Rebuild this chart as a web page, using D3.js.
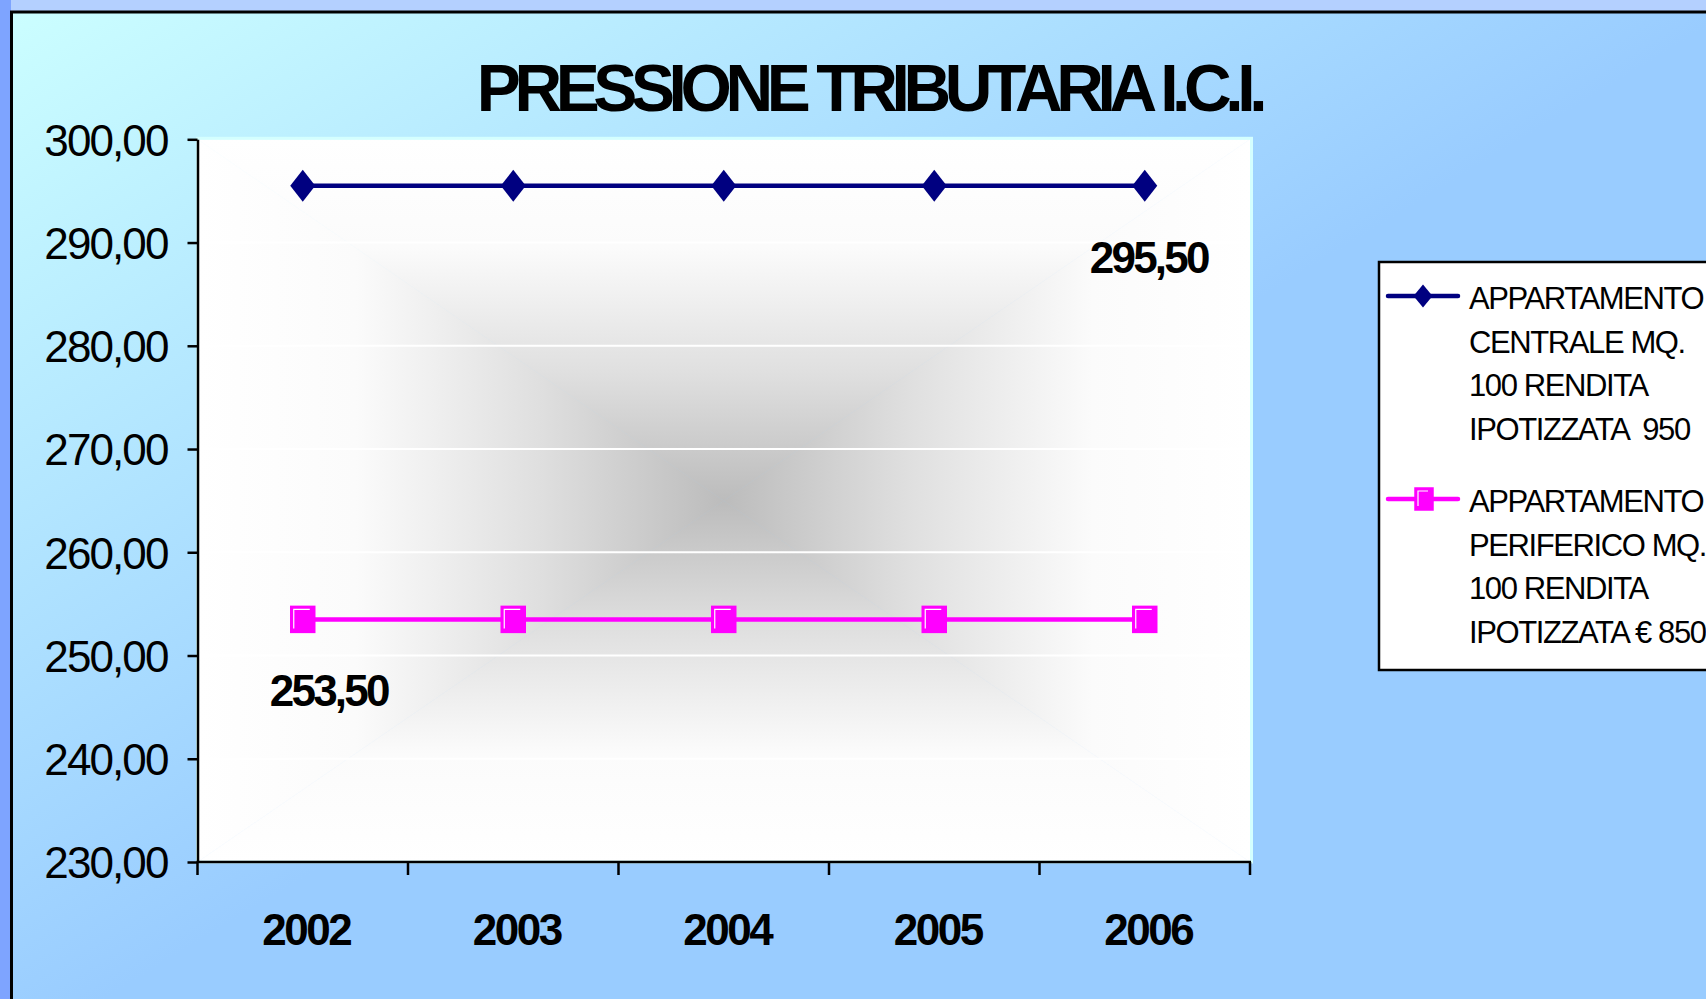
<!DOCTYPE html>
<html>
<head>
<meta charset="utf-8">
<script src="https://cdn.jsdelivr.net/npm/d3@7"></script>
<style>
  html, body { margin: 0; padding: 0; overflow: hidden; background: #8fb0ff; }
  svg { display: block; font-family: "Liberation Sans", Arial, sans-serif; }
</style>
</head>
<body>
<div id="chart-area"></div>
<script>
// Data
const years = ["2002", "2003", "2004", "2005", "2006"];
const centrale = [295.5, 295.5, 295.5, 295.5, 295.5];
const periferico = [253.5, 253.5, 253.5, 253.5, 253.5];
const yTicks = [230, 240, 250, 260, 270, 280, 290, 300];
const legendCentrale = ["APPARTAMENTO", "CENTRALE MQ.", "100 RENDITA", "IPOTIZZATA  950"];
const legendPeriferico = ["APPARTAMENTO", "PERIFERICO MQ.", "100 RENDITA", "IPOTIZZATA € 850"];

(function () {
  const width = 1706;
  const height = 999;

  // plot area
  const plot = { left: 197.5, right: 1250, top: 139.3, bottom: 862 };

  const itFormat = d3.formatLocale({ decimal: ",", thousands: ".", grouping: [3], currency: ["€", ""] }).format(".2f");

  const svg = d3.select("#chart-area")
    .append("svg")
    .attr("width", width)
    .attr("height", height);

  const defs = svg.append("defs");

  // background gradient (cyan top-left to light blue)
  const bg = defs.append("linearGradient")
    .attr("id", "bgGrad")
    .attr("gradientUnits", "userSpaceOnUse")
    .attr("x1", 0).attr("y1", 0).attr("x2", 471).attr("y2", 777);
  bg.append("stop").attr("offset", 0).attr("stop-color", "#ccffff");
  bg.append("stop").attr("offset", 1).attr("stop-color", "#99ccff");

  // outer strip (outside the frame)
  svg.append("rect").attr("x", 0).attr("y", 0).attr("width", width).attr("height", 12)
    .attr("fill", "#b4d0ff");
  svg.append("rect").attr("x", 0).attr("y", 0).attr("width", 11).attr("height", height)
    .attr("fill", "#7ea4ff");

  // chart area with frame
  svg.append("rect")
    .attr("x", 11.5).attr("y", 12)
    .attr("width", width + 20).attr("height", height + 20)
    .attr("fill", "url(#bgGrad)")
    .attr("stroke", "#000")
    .attr("stroke-width", 3);

  // scales
  const x = d3.scaleBand().domain(years).range([plot.left, plot.right]).padding(0);
  const y = d3.scaleLinear().domain([230, 300]).range([plot.bottom, plot.top]);
  const cx = d => x(d) + x.bandwidth() / 2;

  // plot area: rectangular "from center" gradient made of 4 triangles
  const pcx = (plot.left + plot.right) / 2;
  const pcy = (plot.top + plot.bottom) / 2;
  const stops = [[0, "#ffffff"], [0.3, "#fbfbfb"], [0.65, "#dfdfdf"], [1, "#bcbcbc"]];
  const tris = [
    { id: "gTop", g: [0, plot.top, 0, pcy], pts: [[plot.left, plot.top], [plot.right, plot.top], [pcx, pcy]] },
    { id: "gBot", g: [0, plot.bottom, 0, pcy], pts: [[plot.left, plot.bottom], [plot.right, plot.bottom], [pcx, pcy]] },
    { id: "gLeft", g: [plot.left, 0, pcx, 0], pts: [[plot.left, plot.top], [plot.left, plot.bottom], [pcx, pcy]] },
    { id: "gRight", g: [plot.right, 0, pcx, 0], pts: [[plot.right, plot.top], [plot.right, plot.bottom], [pcx, pcy]] }
  ];
  tris.forEach(t => {
    const lg = defs.append("linearGradient")
      .attr("id", t.id)
      .attr("gradientUnits", "userSpaceOnUse")
      .attr("x1", t.g[0]).attr("y1", t.g[1]).attr("x2", t.g[2]).attr("y2", t.g[3]);
    stops.forEach(s => lg.append("stop").attr("offset", s[0]).attr("stop-color", s[1]));
    svg.append("polygon")
      .attr("points", t.pts.map(p => p.join(",")).join(" "))
      .attr("fill", `url(#${t.id})`)
      .attr("stroke", `url(#${t.id})`)
      .attr("stroke-width", 0.6);
  });

  // light border round plot area
  svg.append("rect")
    .attr("x", plot.left).attr("y", plot.top - 1)
    .attr("width", plot.right - plot.left + 1.5).attr("height", plot.bottom - plot.top + 1)
    .attr("fill", "none")
    .attr("stroke", "#d4ffff")
    .attr("stroke-width", 3);

  // gridlines
  svg.append("g")
    .selectAll("line")
    .data(yTicks.filter(d => d > 230 && d < 300))
    .join("line")
    .attr("x1", plot.left).attr("x2", plot.right)
    .attr("y1", d => y(d)).attr("y2", d => y(d))
    .attr("stroke", "#ffffff")
    .attr("stroke-width", 2);

  // y axis
  const yAxis = svg.append("g")
    .attr("transform", `translate(${plot.left},0)`)
    .call(d3.axisLeft(y).tickValues(yTicks).tickFormat(itFormat).tickSize(10).tickPadding(20).tickSizeOuter(0));
  yAxis.select(".domain").attr("stroke", "#000").attr("stroke-width", 2.5);
  yAxis.selectAll(".tick line").attr("stroke", "#000").attr("stroke-width", 2.5);
  yAxis.selectAll(".tick text")
    .attr("fill", "#000")
    .attr("font-size", 44)
    .attr("font-family", "'Liberation Sans', Arial, sans-serif")
    .attr("dy", "0.36em")
    .style("letter-spacing", "-1.9px");

  // x axis: line, ticks at band edges, labels at centres
  svg.append("line")
    .attr("x1", plot.left - 1).attr("x2", plot.right + 1)
    .attr("y1", plot.bottom).attr("y2", plot.bottom)
    .attr("stroke", "#000").attr("stroke-width", 2.5);
  svg.append("g")
    .selectAll("line")
    .data(years.map(d => x(d)).concat([x.range()[1]]))
    .join("line")
    .attr("x1", d => d).attr("x2", d => d)
    .attr("y1", plot.bottom).attr("y2", plot.bottom + 13)
    .attr("stroke", "#000").attr("stroke-width", 2.5);
  svg.append("g")
    .selectAll("text")
    .data(years)
    .join("text")
    .attr("x", d => cx(d) + 3.5)
    .attr("y", plot.bottom + 83)
    .attr("text-anchor", "middle")
    .attr("font-size", 44)
    .attr("font-weight", "bold")
    .style("letter-spacing", "-2.5px")
    .text(d => d);

  // series
  const series = [
    { name: "centrale", values: centrale, color: "#000080", marker: "diamond", legend: legendCentrale },
    { name: "periferico", values: periferico, color: "#ff00ff", marker: "square", legend: legendPeriferico }
  ];

  const line = d3.line().x(d => cx(d.year)).y(d => y(d.value));

  function drawMarker(g, type, color, px, py, w, h) {
    if (type === "diamond") {
      g.append("path")
        .attr("d", `M${px},${py - h / 2}L${px + w / 2},${py}L${px},${py + h / 2}L${px - w / 2},${py}Z`)
        .attr("fill", color);
    } else {
      g.append("rect")
        .attr("x", px - w / 2).attr("y", py - h / 2)
        .attr("width", w).attr("height", h)
        .attr("fill", color)
        .attr("stroke", color).attr("stroke-width", 1.5);
      g.append("path")
        .attr("d", `M${px - w / 2 + 3},${py + h / 2 - 4}V${py - h / 2 + 3}H${px + w / 2 - 5}`)
        .attr("fill", "none")
        .attr("stroke", "#ffffff")
        .attr("stroke-width", 1.2);
    }
  }

  series.forEach(s => {
    const pts = years.map((yr, i) => ({ year: yr, value: s.values[i] }));
    svg.append("path")
      .datum(pts)
      .attr("d", line)
      .attr("fill", "none")
      .attr("stroke", s.color)
      .attr("stroke-width", 4.5);
    const mg = svg.append("g");
    pts.forEach(p => {
      if (s.marker === "diamond") drawMarker(mg, "diamond", s.color, cx(p.year), y(p.value), 25, 32);
      else drawMarker(mg, "square", s.color, cx(p.year), y(p.value), 24, 26);
    });
  });

  // data labels: last point of centrale, first point of periferico
  const dataLabels = [
    { s: 0, i: 4, dx: 4 },
    { s: 1, i: 0, dx: 26 }
  ];
  svg.append("g")
    .selectAll("text")
    .data(dataLabels)
    .join("text")
    .attr("x", d => cx(years[d.i]) + d.dx)
    .attr("y", d => y(series[d.s].values[d.i]) + 87)
    .attr("text-anchor", "middle")
    .attr("font-size", 44)
    .attr("font-weight", "bold")
    .style("letter-spacing", "-2.8px")
    .text(d => itFormat(series[d.s].values[d.i]));

  // title
  svg.append("text")
    .attr("x", 869)
    .attr("y", 111)
    .attr("text-anchor", "middle")
    .attr("font-size", 66)
    .attr("font-weight", "bold")
    .style("letter-spacing", "-6.4px")
    .text("PRESSIONE TRIBUTARIA I.C.I.");

  // legend
  const legend = svg.append("g");
  legend.append("rect")
    .attr("x", 1379).attr("y", 262)
    .attr("width", 400).attr("height", 408)
    .attr("fill", "#ffffff")
    .attr("stroke", "#000")
    .attr("stroke-width", 2.5);

  const entryTop = [296, 499];
  series.forEach((s, k) => {
    const ly = entryTop[k];
    legend.append("line")
      .attr("x1", 1388).attr("x2", 1458)
      .attr("y1", ly).attr("y2", ly)
      .attr("stroke", s.color).attr("stroke-width", 4.5)
      .attr("stroke-linecap", "round");
    if (s.marker === "diamond") drawMarker(legend, "diamond", s.color, 1423, ly, 19, 23);
    else drawMarker(legend, "square", s.color, 1424, ly, 18, 22);
    legend.append("g")
      .selectAll("text")
      .data(s.legend)
      .join("text")
      .attr("x", 1469)
      .attr("y", (d, i) => ly + 13 + i * 43.5)
      .attr("font-size", 31)
      .style("letter-spacing", "-1.4px")
      .style("white-space", "pre")
      .text(d => d);
  });
})();
</script>
</body>
</html>
